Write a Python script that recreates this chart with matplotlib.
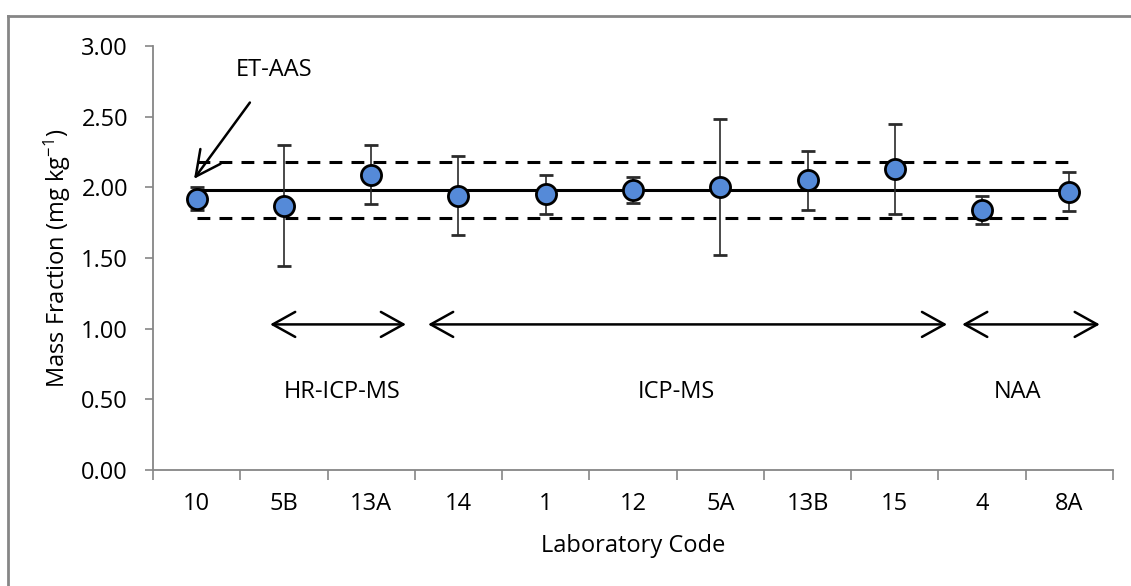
"""Interlaboratory comparison: mass fraction by laboratory code."""

import matplotlib.pyplot as plt
import numpy as np
from matplotlib.lines import Line2D
from matplotlib.patches import FancyArrowPatch

plt.rcParams["font.family"] = ["Open Sans", "DejaVu Sans"]
plt.rcParams["mathtext.fontset"] = "custom"
plt.rcParams["mathtext.rm"] = "Open Sans"
plt.rcParams["mathtext.it"] = "Open Sans"
plt.rcParams["axes.unicode_minus"] = False

labs = ["10", "5B", "13A", "14", "1", "12", "5A", "13B", "15", "4", "8A"]
mass_fraction = [1.92, 1.87, 2.09, 1.94, 1.95, 1.98, 2.00, 2.05, 2.13, 1.84, 1.97]
uncertainty = [0.08, 0.43, 0.21, 0.28, 0.14, 0.09, 0.48, 0.21, 0.32, 0.10, 0.14]

reference_value = 1.98
reference_band = 0.20

# method groups: (label, arrow start, arrow end) in category units
methods = [
    ("HR-ICP-MS", 0.81, 2.43),
    ("ICP-MS", 2.62, 8.63),
    ("NAA", 8.74, 10.38),
]
method_label_x = [1.67, 5.5, 9.41]

GREY = "#868686"
BLUE = "#558ad8"
FS = 17

fig = plt.figure(figsize=(11.31, 5.86), dpi=100)
ax = fig.add_axes([0.1353, 0.198, 0.8488, 0.7235])

x = np.arange(len(labs))

# reference value and +/- band
ax.plot([x[0], x[-1]], [reference_value] * 2, color="black", lw=2.2, zorder=2)
for level in (reference_value + reference_band, reference_value - reference_band):
    ax.plot([x[0], x[-1]], [level] * 2, color="black", lw=2.2,
            dashes=(4.2, 3.0), zorder=2)

ax.errorbar(x, mass_fraction, yerr=uncertainty, fmt="o", color=BLUE,
            markersize=14.5, markeredgecolor="black", markeredgewidth=2,
            ecolor="#2b2b2b", elinewidth=1.2, capsize=5, capthick=1.2,
            zorder=3)

ax.set_xlim(-0.5, len(labs) - 0.5)
ax.set_ylim(0, 3)
ax.set_yticks(np.arange(0, 3.01, 0.5))
ax.set_yticklabels([f"{v:.2f}" for v in np.arange(0, 3.01, 0.5)])
ax.set_xticks(np.arange(-0.5, len(labs)))
ax.set_xticklabels([])
ax.set_xticks(x, minor=True)
ax.set_xticklabels(labs, minor=True)

for side in ("top", "right"):
    ax.spines[side].set_visible(False)
for side in ("left", "bottom"):
    ax.spines[side].set_color(GREY)
    ax.spines[side].set_linewidth(1.3)

ax.tick_params(axis="y", which="major", direction="out", length=6,
               width=1.2, color=GREY, labelsize=FS, pad=12)
ax.tick_params(axis="x", which="major", direction="out", length=7,
               width=1.2, color=GREY)
ax.tick_params(axis="x", which="minor", length=0, labelsize=FS, pad=16)

ax.set_ylabel("Mass Fraction (mg kg$^{-1}$)", fontsize=FS, labelpad=6)
ax.set_xlabel("Laboratory Code", fontsize=FS, labelpad=13)

# method ranges
for (name, start, end), lx in zip(methods, method_label_x):
    arrow = FancyArrowPatch((start, 1.03), (end, 1.03),
                            arrowstyle="<->,head_length=0.9,head_width=0.5",
                            mutation_scale=18, color="black", lw=1.8,
                            clip_on=False)
    ax.add_patch(arrow)
    ax.text(lx, 0.55, name, ha="center", va="center", fontsize=FS)

ax.text(0.89, 2.83, "ET-AAS", ha="center", va="center", fontsize=FS)
ax.annotate("", xy=(-0.03, 2.06), xytext=(0.61, 2.60),
            arrowprops=dict(arrowstyle="->,head_length=1.0,head_width=0.5",
                            mutation_scale=18, color="black", lw=1.8,
                            shrinkA=0, shrinkB=0))

# outer frame (left and top edges only)
fig.add_artist(Line2D([8 / 1131, 8 / 1131], [0, 1 - 16 / 586],
                      transform=fig.transFigure, color=GREY, lw=2))
fig.add_artist(Line2D([8 / 1131, 1], [1 - 16 / 586, 1 - 16 / 586],
                      transform=fig.transFigure, color=GREY, lw=2))

fig.savefig("out.png", dpi=100)
